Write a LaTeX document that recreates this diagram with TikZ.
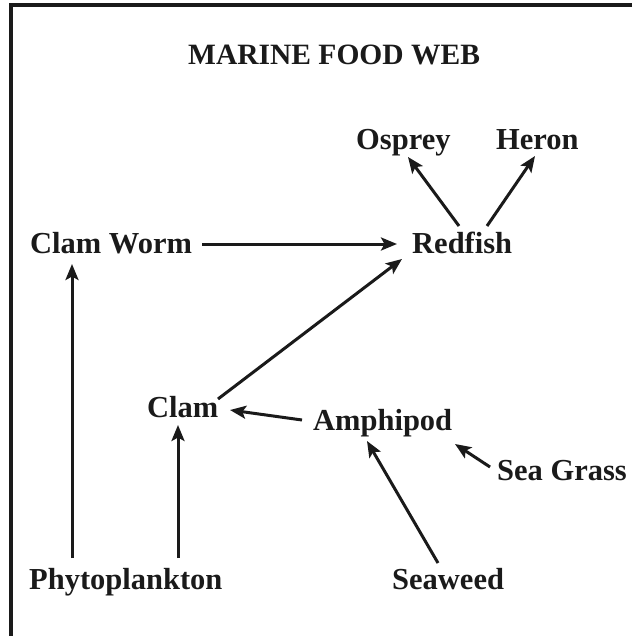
\documentclass[tikz,border=0pt]{standalone}
\usepackage{fontspec}
\setmainfont{Liberation Serif}
\usetikzlibrary{arrows.meta}
\definecolor{ink}{HTML}{1A1A1A}
\begin{document}
\begin{tikzpicture}[x=1pt,y=-1pt,
  lbl/.style={anchor=base west,inner sep=0pt,text=ink,font=\fontsize{30.5}{36}\selectfont\bfseries},
  ttl/.style={anchor=base west,inner sep=0pt,text=ink,font=\fontsize{29.5}{36}\selectfont\bfseries},
  arr/.style={draw=ink,line width=3pt,-{Stealth[length=16pt,width=13pt,inset=3.5pt]}},
  frame/.style={draw=ink,line width=3.4pt}]
\useasboundingbox (0,0) rectangle (632,636);
\coordinate (tl) at (11,5);
\coordinate (tr) at (632,5);
\coordinate (bl) at (11,636);
\draw[frame] (tr) -- (tl) -- (bl);
\node[ttl] (title) at (188,65) {MARINE FOOD WEB};
\node[lbl] (osprey) at (356,150) {Osprey};
\node[lbl] (heron) at (496,150) {Heron};
\node[lbl] (redfish) at (412,253) {Redfish};
\node[lbl] (clamworm) at (30,253) {Clam Worm};
\node[lbl] (clam) at (147,417) {Clam};
\node[lbl] (amphipod) at (313,430) {Amphipod};
\node[lbl] (seagrass) at (497,480) {Sea Grass};
\node[lbl] (phyto) at (29,589) {Phytoplankton};
\node[lbl] (seaweed) at (392,589) {Seaweed};
\draw[arr] ([shift={(43,-31)}]phyto.base west) -- ([shift={(42,11)}]clamworm.base west);
\draw[arr] ([shift={(149,-31)}]phyto.base west) -- ([shift={(31,8)}]clam.base west);
\draw[arr] ([shift={(172,-9)}]clamworm.base west) -- ([shift={(-15,-9)}]redfish.base west);
\draw[arr] ([shift={(71,-18)}]clam.base west) -- ([shift={(-10,6)}]redfish.base west);
\draw[arr] ([shift={(-11,-10)}]amphipod.base west) -- ([shift={(83,-7)}]clam.base west);
\draw[arr] ([shift={(46,-26)}]seaweed.base west) -- ([shift={(54,11)}]amphipod.base west);
\draw[arr] ([shift={(-7,-13)}]seagrass.base west) -- ([shift={(142,14)}]amphipod.base west);
\draw[arr] ([shift={(47,-27)}]redfish.base west) -- ([shift={(52,7)}]osprey.base west);
\draw[arr] ([shift={(75,-27)}]redfish.base west) -- ([shift={(39,6)}]heron.base west);
\end{tikzpicture}
\end{document}
